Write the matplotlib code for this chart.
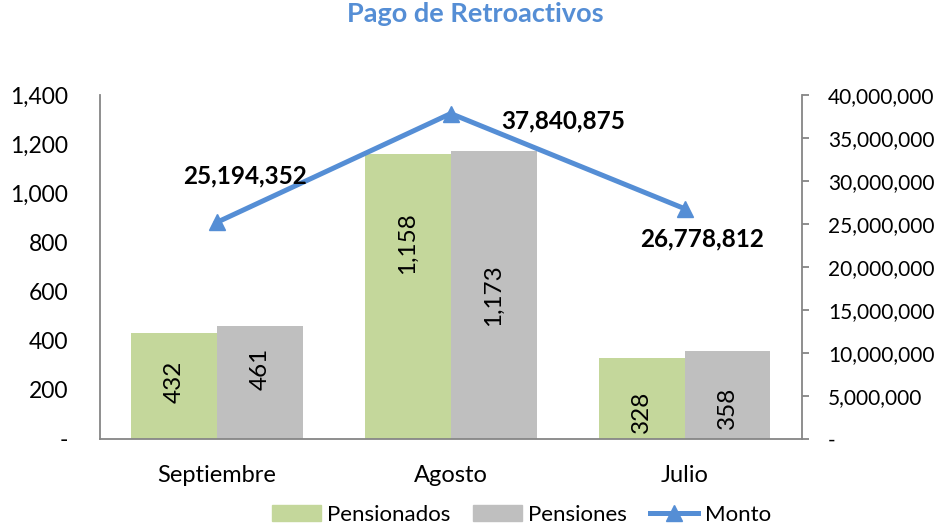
import matplotlib.pyplot as plt
import matplotlib.ticker as mticker
from matplotlib.patches import Patch
from matplotlib.lines import Line2D
import numpy as np

# Datos del grafico
meses = ["Septiembre", "Agosto", "Julio"]
pensionados = [432, 1158, 328]
pensiones = [461, 1173, 358]
monto = [25194352, 37840875, 26778812]

# posicion vertical de las etiquetas dentro de cada barra (fraccion de la altura)
pos_pensionados = [0.54, 0.69, 0.34]
pos_pensiones = [0.62, 0.50, 0.35]
# desplazamiento (pixeles) de las etiquetas del monto
off_monto = [(28, 46), (112, -7), (17, -30)]

verde = "#C4D79B"
gris = "#BFBFBF"
azul = "#558ED5"
eje = "#868686"

plt.rcParams["font.family"] = ["Lato", "DejaVu Sans"]

fig = plt.figure(figsize=(9.43, 5.28), dpi=100)
ax = fig.add_axes([0.106, 0.1686, 0.744, 0.6515])
ax2 = ax.twinx()

x = np.arange(len(meses))
w = 0.367
b1 = ax.bar(x - w / 2, pensionados, w, color=verde, zorder=2)
b2 = ax.bar(x + w / 2, pensiones, w, color=gris, zorder=2)

for bars, vals, fr in [(b1, pensionados, pos_pensionados), (b2, pensiones, pos_pensiones)]:
    for r, v, f in zip(bars, vals, fr):
        ax.text(r.get_x() + r.get_width() / 2, v * f, f"{v:,}", rotation=90,
                ha="center", va="center", fontsize=17.5, color="black")

ax2.plot(x, monto, color=azul, lw=3.6, marker="^", markersize=11, zorder=3)
for xi, v, (dx, dy) in zip(x, monto, off_monto):
    ax2.annotate(f"{v:,}", (xi, v), xytext=(dx, dy), textcoords="offset pixels",
                 ha="center", va="center", fontsize=17.5, fontweight="bold")

ax.set_xlim(-0.5, 2.5)
ax.set_ylim(0, 1400)
ax2.set_ylim(0, 40000000)
ax.set_yticks(np.arange(0, 1401, 200))
ax2.set_yticks(np.arange(0, 40000001, 5000000))

fmt = mticker.FuncFormatter(lambda v, p: "-" if v == 0 else f"{v:,.0f}")
ax.yaxis.set_major_formatter(fmt)
ax2.yaxis.set_major_formatter(fmt)

ax.set_xticks(x)
ax.set_xticklabels(meses)

for s in ["top", "right"]:
    ax.spines[s].set_visible(False)
for s in ["top", "left", "bottom"]:
    ax2.spines[s].set_visible(False)
for s in [ax.spines["left"], ax.spines["bottom"], ax2.spines["right"]]:
    s.set_color(eje)
    s.set_linewidth(1.3)

ax.tick_params(axis="y", length=0, pad=23, labelsize=16.5)
ax.tick_params(axis="x", length=0, pad=19, labelsize=17)
ax2.tick_params(axis="y", length=5, width=1.3, color=eje, pad=14, labelsize=15)

fig.text(0.504, 0.973, "Pago de Retroactivos", ha="center", va="center",
         fontsize=19.5, fontweight="bold", color=azul)

handles = [Patch(color=verde), Patch(color=gris),
           Line2D([], [], color=azul, lw=3.6, marker="^", markersize=11)]
fig.legend(handles, ["Pensionados", "Pensiones", "Monto"], loc="center",
           bbox_to_anchor=(0.553, 0.025), ncol=3, frameon=False, fontsize=16,
           handlelength=2.2, handletextpad=0.3, columnspacing=1.0)

fig.savefig("out.png", dpi=100)
